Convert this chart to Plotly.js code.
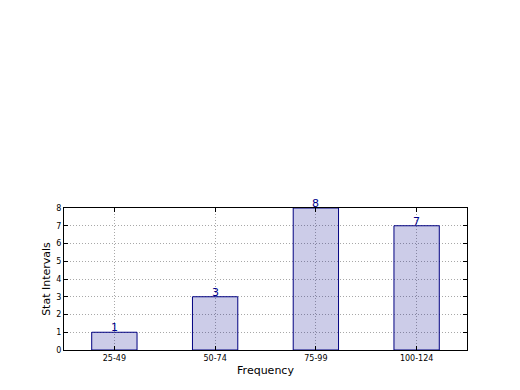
<!DOCTYPE html>
<html><head><meta charset="utf-8">
<script src="https://cdn.plot.ly/plotly-3.0.1.min.js"></script>
<style>html,body{margin:0;padding:0;background:#fff}#c{width:520px;height:390px}</style>
</head><body><div id="c"></div>
<script>
const categories = ["25-49", "50-74", "75-99", "100-124"];
const counts = [1, 3, 8, 7];
const yTicks = [0, 1, 2, 3, 4, 5, 6, 7, 8];

const trace = {
  type: "bar",
  x: categories,
  y: counts,
  width: 0.45,
  marker: {color: "rgba(0,0,140,0.2)", line: {color: "#000080", width: 1}},
  hoverinfo: "none"
};

const annotations = categories.map((c, i) => ({
  x: c, y: counts[i], xref: "x", yref: "y",
  text: String(counts[i]), showarrow: false,
  xanchor: "center", yanchor: "bottom", yshift: -4,
  font: {family: "DejaVu Sans", size: 11, color: "#00008b"}
}));

const layout = {
  width: 520, height: 390,
  margin: {l: 64, r: 53, t: 208, b: 40, pad: 0},
  paper_bgcolor: "#fff", plot_bgcolor: "#fff",
  showlegend: false,
  font: {family: "DejaVu Sans", color: "#000"},
  annotations: annotations,
  xaxis: {
    type: "category", range: [-0.5, 3.5],
    showline: true, linecolor: "#000", linewidth: 1, mirror: "ticks",
    ticks: "inside", ticklen: 4, tickcolor: "#000",
    showgrid: true, gridcolor: "#a8a8a8", griddash: "1px,2px", gridwidth: 1,
    tickfont: {size: 8}, layer: "above traces",
    title: {text: "Frequency", font: {size: 11}, standoff: 4}
  },
  yaxis: {
    range: [0, 8], tickvals: yTicks, ticktext: yTicks.map(String),
    showline: true, linecolor: "#000", linewidth: 1, mirror: "ticks",
    ticks: "inside", ticklen: 4, tickcolor: "#000",
    showgrid: true, gridcolor: "#a8a8a8", griddash: "1px,2px", gridwidth: 1,
    zeroline: false,
    tickfont: {size: 8}, layer: "above traces",
    title: {text: "Stat Intervals", font: {size: 11}, standoff: 3}
  },
  bargap: 0.55
};

Plotly.newPlot("c", [trace], layout, {displayModeBar: false, staticPlot: true});
</script>
</body></html>
